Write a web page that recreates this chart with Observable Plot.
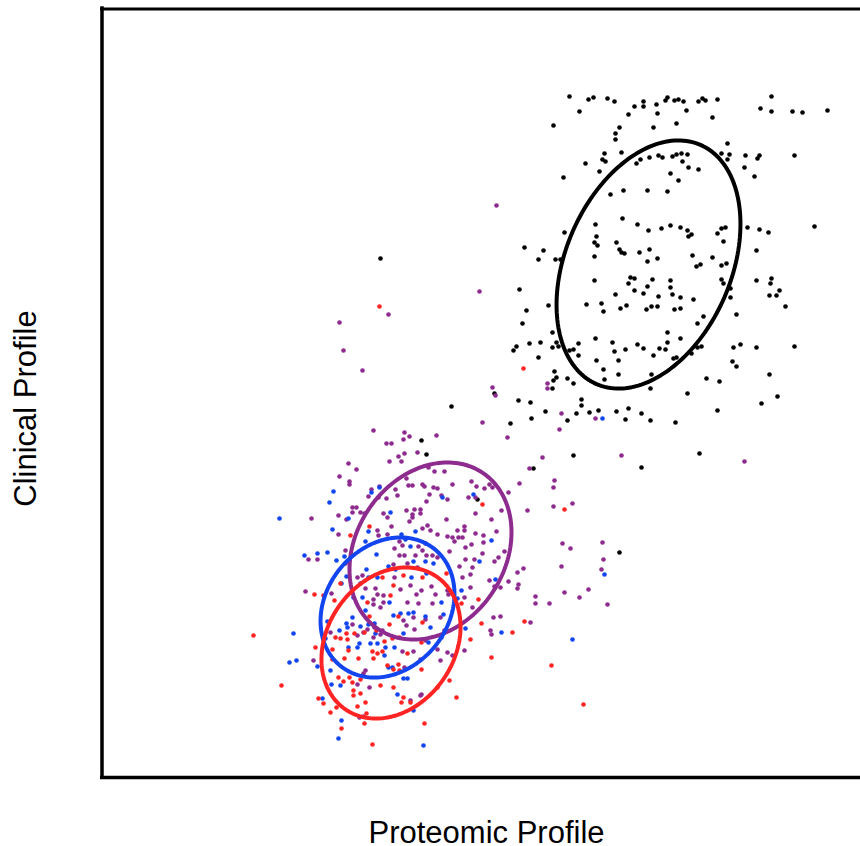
<!DOCTYPE html>
<html>
<head>
<meta charset="utf-8">
<script src="https://cdn.jsdelivr.net/npm/d3@7"></script>
<script src="https://cdn.jsdelivr.net/npm/@observablehq/plot@0.6"></script>
<style>
  html, body { margin: 0; padding: 0; background: #fff; }
</style>
</head>
<body>
<div id="chart"></div>
<script>
// ---- Data (arbitrary profile units; x = proteomic, y = clinical) ----
const xLabel = "Proteomic Profile";
const yLabel = "Clinical Profile";

const blackPts = [
[469,680],[488,677],[493,679],[507,678],[514,675],[479,665],[534,670],[543,675],[543,670],[556,672],[557,663],[528,662],
[453,651],[519,649],[515,643],[515,637],[553,649],[504,623],[502,617],[505,615],[521,624],[485,613],[499,605],[536,613],
[540,617],[549,619],[558,621],[463,599],[510,582],[523,586],[547,586],[495,552],[522,558],[537,552],[548,546],[464,544],
[496,540],[494,534],[497,531],[516,534],[519,527],[521,524],[524,523],[539,524],[549,527],[547,515],[557,518],[494,520],
[424,529],[443,526],[438,517],[455,517],[460,517],
[565,676],[567,679],[574,676],[578,677],[583,675],[586,666],[598,675],[602,678],[605,676],[617,677],[612,659],[576,653],
[671,680],[660,668],[671,665],[692,665],[702,664],[727,666],[627,633],[562,619],[572,620],[576,622],[581,623],[587,622],
[582,615],[588,609],[598,607],[570,603],[578,596],[567,585],[621,623],[629,622],[627,617],[645,621],[659,621],[657,618],
[644,609],[654,600],[694,621],[561,548],[570,551],[580,549],[587,546],[588,540],[591,542],[617,543],[621,548],[625,549],
[623,535],[647,549],[659,547],[668,544],[714,550],[656,526],[592,521],[612,519],[596,510],[600,512],[621,511],[626,513],
[419,487],[448,471],[426,466],[422,453],[452,444],[494,496],[530,499],[534,498],[528,493],[552,497],[547,490],[534,486],
[543,483],[558,480],[515,482],[486,472],[501,473],[503,465],[520,468],[526,471],[546,467],[551,470],[557,470],[416,430],
[413,426],[429,433],[440,434],[452,429],[456,434],[458,430],[438,419],[478,433],[473,427],[469,426],[478,421],[495,438],
[512,434],[514,425],[525,427],[537,432],[543,428],[559,428],[553,421],[496,416],[518,416],[503,407],[518,402],[504,397],
[551,402],[550,388],[454,405],[456,399],[453,396],[467,398],[473,393],[452,388],[394,383],[418,376],[430,374],[481,377],
[481,371],[445,365],[476,363],[489,364],[498,366],[516,365],[528,368],[541,363],[431,358],[467,356],[525,357],[550,356],
[410,353],[473,321],[541,309],[433,308],
[570,496],[570,489],[572,482],[580,479],[593,477],[574,467],[580,468],[621,497],[623,493],[630,488],[630,479],[656,496],
[671,498],[670,493],[679,486],[669,481],[676,481],[685,470],[636,462],[603,460],[597,453],[567,444],[580,438],[567,434],
[565,427],[573,418],[576,419],[591,423],[597,429],[601,430],[633,429],[640,432],[656,429],[694,430],[632,415],[636,410],
[669,402],[606,398],[619,395],[587,383],[677,380],[661,373],[617,366],[575,354],[599,323],
[280,518],[351,370],[321,336],[326,322],[377,277],[519,224]
];

const purplePts = [
[396,571],[379,485],[288,462],[239,454],[243,426],[262,406],[392,389],[395,381],[447,393],[447,388],[461,363],[495,358],
[459,347],[382,354],[407,339],[442,319],[521,321],[429,308],[644,315],
[273,346],[304,344],[309,340],[303,337],[286,333],[291,333],[304,323],[298,320],[301,315],[289,315],[317,324],[248,313],
[256,307],[239,300],[249,295],[249,292],[306,298],[308,291],[312,291],[322,292],[324,290],[295,287],[297,281],[279,290],
[271,287],[268,280],[278,279],[286,278],[329,282],[211,258],[238,261],[252,269],[256,269],[260,264],[264,263],[252,264],
[246,257],[283,263],[287,259],[312,262],[314,267],[320,267],[320,263],[312,259],[309,255],[306,266],[277,246],[291,250],
[287,242],[278,241],[238,242],[322,248],[327,251],[299,235],[302,231],[294,228],[299,221],[304,221],[315,221],[318,230],
[325,233],[307,213],[317,209],[208,217],[217,217],[245,226],[262,201],[245,213],[293,212],
[336,341],[419,293],[454,296],[453,289],[472,273],[453,270],[427,266],[408,284],[328,309],[334,305],[344,305],[333,289],
[337,288],[352,292],[371,295],[376,290],[384,288],[389,292],[392,289],[368,279],[375,279],[347,277],[341,281],[326,275],
[401,266],[375,263],[391,257],[346,257],[330,246],[337,242],[347,240],[352,239],[354,235],[358,239],[362,239],[357,246],
[364,250],[364,246],[375,243],[383,241],[383,234],[396,245],[365,229],[371,232],[349,225],[322,226],[326,221],[332,221],
[337,219],[365,217],[374,217],[382,223],[398,219],[404,225],[359,210],[372,209],[394,215],[370,202],[362,199],[417,204],
[423,208],[462,233],[470,228],[502,234],[503,217],[501,207],[461,210],
[205,185],[231,183],[213,116],[230,144],[252,152],[257,141],[263,144],[267,147],[274,149],[273,139],[280,142],[282,146],
[265,106],[263,103],[257,92],[269,89],[273,172],[257,199],[265,188],[275,188],[277,182],[283,181],[283,174],[280,169],
[273,177],[310,191],[316,182],[307,174],[318,173],[303,156],[306,151],[313,159],[302,125],[313,125],[314,147],[320,117],
[304,109],[310,76],[320,81],[263,60],[259,59],[294,199],[300,187],[321,186],[325,136],
[331,190],[335,182],[332,173],[347,186],[348,182],[370,189],[364,179],[372,169],[389,196],[394,190],[400,189],[408,195],
[417,188],[418,192],[435,180],[435,173],[449,173],[464,184],[479,179],[488,187],[507,172],[393,159],[400,160],[430,154],
[390,146],[391,142],[340,159],[325,157],[344,146],[337,127],[347,124],[352,121],[340,116],[364,126],[321,82]
];

const bluePts = [
[502,358],[179,258],[233,285],[229,274],[271,284],[279,289],[290,264],[248,258],[232,247],[268,245],[265,235],[301,242],
[315,245],[310,230],[305,237],[204,221],[217,223],[227,224],[236,216],[244,220],[276,222],[266,207],[288,210],[295,207],
[313,215],[325,215],[311,199],[246,200],
[373,282],[342,279],[391,236],[379,215],[333,213],[504,202],[326,203],
[193,143],[189,114],[196,116],[217,110],[230,106],[227,155],[225,138],[246,153],[247,149],[239,146],[248,129],[257,129],
[259,133],[270,133],[277,133],[285,129],[284,121],[288,109],[292,109],[275,143],[274,153],[268,152],[260,150],[252,159],
[265,166],[253,179],[262,179],[241,193],[260,193],[268,199],[277,199],[289,174],[293,161],[300,163],[303,143],[308,163],
[313,164],[325,160],[294,129],[303,98],[307,98],[297,82],[313,66],[231,92],[240,91],[222,78],[241,56],[238,38],[323,31],
[395,197],[361,186],[357,178],[341,174],[343,162],[330,149],[365,148],[401,144],[472,137],[341,139],[328,134]
];

const redPts = [
[423,408],[279,470],[269,250],[250,241],[382,272],[464,267],[346,203],
[153,141],[181,91],[214,182],[223,181],[240,193],[215,129],[232,127],[240,138],[247,137],[235,139],[246,143],[254,143],
[264,144],[232,117],[244,118],[248,126],[258,118],[273,118],[272,125],[277,123],[282,125],[284,135],[276,146],[289,152],
[292,138],[299,139],[307,123],[298,112],[287,111],[293,107],[299,106],[238,99],[243,95],[249,99],[252,94],[260,97],
[253,86],[253,81],[260,83],[280,91],[293,89],[303,79],[301,74],[310,74],[265,74],[257,70],[266,63],[218,78],[223,73],
[230,64],[236,69],[241,48],[264,53],[272,32],[324,53],[321,107],[321,134],[322,154],[298,160],[269,160],[234,176],
[267,174],[290,181],[293,191],[282,199],[322,199],[303,201],
[378,177],[361,173],[381,153],[370,137],[391,119],[424,155],[412,144],[451,111],[483,72],[349,96],[337,89],[356,79]
];

// Group metadata and fitted ellipse parameters (center, semi-axes, rotation in degrees)
const groupNames  = ["black", "purple", "blue", "red"];
const groupColors = ["#000000", "#8e2b8e", "#1245f0", "#ff2424"];
const groupPoints = [blackPts, purplePts, bluePts, redPts];
const ellipseCx    = [548, 330, 287, 290.5];
const ellipseCy    = [512, 225.5, 169, 133.5];
const ellipseA     = [130.4, 94, 75, 80.5];
const ellipseB     = [82.7, 74.6, 61.3, 63.7];
const ellipseAngle = [66.5, 56.5, 51.4, 55.5];

// ---- Build ----
const ellipseOutline = (i) => {
  const phi = ellipseAngle[i] * Math.PI / 180;
  return d3.range(0, 361, 2).map(deg => {
    const t = deg * Math.PI / 180;
    const u = ellipseA[i] * Math.cos(t), v = ellipseB[i] * Math.sin(t);
    return {x: ellipseCx[i] + u * Math.cos(phi) - v * Math.sin(phi),
            y: ellipseCy[i] + u * Math.sin(phi) + v * Math.cos(phi)};
  });
};

const font = "Arial, 'Liberation Sans', sans-serif";
const marks = [];
groupPoints.forEach((pts, i) => {
  marks.push(Plot.dot(pts, {x: d => d[0], y: d => d[1], r: 2.3, fill: groupColors[i], stroke: "none"}));
});
groupPoints.forEach((pts, i) => {
  marks.push(Plot.line(ellipseOutline(i), {x: "x", y: "y", stroke: groupColors[i], strokeWidth: 4, curve: "linear"}));
});
// frame: left, top, bottom
marks.push(Plot.ruleX([0], {stroke: "black", strokeWidth: 3.5, dx: 1.5, strokeLinecap: "square"}));
marks.push(Plot.ruleY([768], {stroke: "black", strokeWidth: 3, dy: 0.5}));
marks.push(Plot.ruleY([0], {stroke: "black", strokeWidth: 3.5, dy: 1}));
// axis titles
marks.push(Plot.text([xLabel], {text: d => d, frameAnchor: "bottom", textAnchor: "middle", lineAnchor: "bottom", dy: 66, dx: 6,
  fontSize: 31, fill: "black", fontFamily: font}));
marks.push(Plot.text([yLabel], {text: d => d, frameAnchor: "left", textAnchor: "middle", lineAnchor: "bottom", rotate: -90, dx: -65, dy: 16,
  fontSize: 31, fill: "black", fontFamily: font}));

const chart = Plot.plot({
  width: 860,
  height: 846,
  marginLeft: 100,
  marginRight: 0,
  marginTop: 8,
  marginBottom: 70,
  x: {domain: [0, 760], axis: null},
  y: {domain: [0, 768], axis: null},
  style: {background: "white", fontFamily: font},
  marks
});
document.getElementById("chart").appendChild(chart);
</script>
</body>
</html>
